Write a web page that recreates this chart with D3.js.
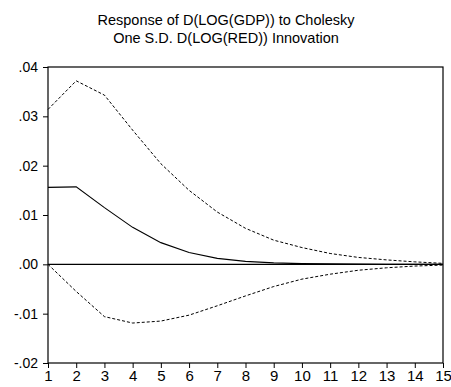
<!DOCTYPE html>
<html>
<head>
<meta charset="utf-8">
<script src="https://cdn.jsdelivr.net/npm/d3@7"></script>
<style>
  body { margin: 0; background: #fff; }
  svg { display: block; font-family: "Liberation Sans", Arial, sans-serif; }
</style>
</head>
<body>
<div id="chart"></div>
<script>
// impulse response periods and values
const periods = [1, 2, 3, 4, 5, 6, 7, 8, 9, 10, 11, 12, 13, 14, 15];
const response = [0.0156, 0.0157, 0.0115, 0.0075, 0.0044, 0.0024, 0.0012, 0.0006, 0.0003, 0.00015, 0.0001, 0.00005, 0.00003, 0.00002, 0.00001];
const upperBand = [0.0314, 0.0372, 0.0343, 0.0272, 0.0204, 0.0150, 0.0106, 0.0073, 0.0049, 0.0034, 0.0022, 0.0014, 0.0009, 0.0005, 0.0002];
const lowerBand = [0.0000, -0.0055, -0.0106, -0.0119, -0.0115, -0.0103, -0.0084, -0.0064, -0.0045, -0.0030, -0.0020, -0.0012, -0.0007, -0.00035, -0.00015];
const yTicks = [0.04, 0.03, 0.02, 0.01, 0, -0.01, -0.02];
const yTickLabels = [".04", ".03", ".02", ".01", ".00", "-.01", "-.02"];
const titleLines = ["Response of D(LOG(GDP)) to Cholesky", "One S.D. D(LOG(RED)) Innovation"];

const width = 451, height = 387;
const margin = { top: 67, right: 8, bottom: 24, left: 48 };

const svg = d3.select("#chart")
  .append("svg")
  .attr("width", width)
  .attr("height", height);

const x = d3.scaleLinear()
  .domain([1, 15])
  .range([margin.left, width - margin.right]);

const y = d3.scaleLinear()
  .domain([-0.02, 0.04])
  .range([height - margin.bottom, margin.top]);

// title
svg.selectAll(".title")
  .data(titleLines)
  .enter()
  .append("text")
  .attr("x", 226)
  .attr("y", (d, i) => 25 + i * 18)
  .attr("text-anchor", "middle")
  .style("font-size", "14.5px")
  .style("fill", "#000")
  .text(d => d);

// frame
svg.append("rect")
  .attr("x", x(1))
  .attr("y", y(0.04))
  .attr("width", x(15) - x(1))
  .attr("height", y(-0.02) - y(0.04))
  .attr("fill", "none")
  .attr("stroke", "#000")
  .attr("stroke-width", 1.2);

// y axis
const yAxis = svg.append("g")
  .attr("transform", "translate(" + x(1) + ",0)")
  .call(d3.axisLeft(y)
    .tickValues(yTicks)
    .tickSize(5)
    .tickFormat((d, i) => yTickLabels[i]));
yAxis.select(".domain").remove();
yAxis.selectAll("text")
  .style("font-size", "14px")
  .style("font-family", "'Liberation Sans', Arial, sans-serif")
  .attr("x", -10);

// x axis
const xAxis = svg.append("g")
  .attr("transform", "translate(0," + y(-0.02) + ")")
  .call(d3.axisBottom(x)
    .tickValues(periods)
    .tickSize(5)
    .tickFormat(d3.format("d")));
xAxis.select(".domain").remove();
xAxis.selectAll("text")
  .style("font-size", "15px")
  .style("font-family", "'Liberation Sans', Arial, sans-serif")
  .attr("y", 7);

// zero line
svg.append("line")
  .attr("x1", x(1))
  .attr("x2", x(15))
  .attr("y1", y(0))
  .attr("y2", y(0))
  .attr("stroke", "#000")
  .attr("stroke-width", 1.2);

const line = d3.line()
  .x((d, i) => x(periods[i]))
  .y(d => y(d));

svg.append("path")
  .datum(upperBand)
  .attr("d", line)
  .attr("fill", "none")
  .attr("stroke", "#000")
  .attr("stroke-width", 1)
  .attr("stroke-dasharray", "3,2");

svg.append("path")
  .datum(lowerBand)
  .attr("d", line)
  .attr("fill", "none")
  .attr("stroke", "#000")
  .attr("stroke-width", 1)
  .attr("stroke-dasharray", "3,2");

svg.append("path")
  .datum(response)
  .attr("d", line)
  .attr("fill", "none")
  .attr("stroke", "#000")
  .attr("stroke-width", 1.1);
</script>
</body>
</html>
